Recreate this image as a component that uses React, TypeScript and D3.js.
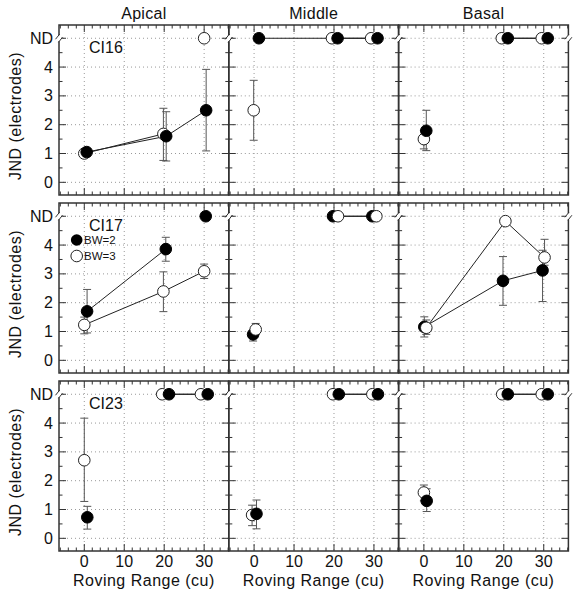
import React from "react";
import * as d3 from "d3";

type Pt = { x: number; y: number; lo?: number; hi?: number };

const regions = ["Apical", "Middle", "Basal"];
const subjects = ["CI16", "CI17", "CI23"];
const xTicks = [0, 10, 20, 30];
const yTicks = [0, 1, 2, 3, 4, 5];
const yTickLabels = ["0", "1", "2", "3", "4", "ND"];
const ND = 5;

// BW=2 (filled) and BW=3 (open) per panel; ND plotted at 5
const ci16ApicalBW2: Pt[] = [
  { x: 0.6, y: 1.05 },
  { x: 20.5, y: 1.6, lo: 0.74, hi: 2.45 },
  { x: 30.5, y: 2.5, lo: 1.09, hi: 3.92 },
];
const ci16ApicalBW3: Pt[] = [
  { x: 0, y: 1.0 },
  { x: 19.8, y: 1.68, lo: 0.76, hi: 2.57 },
  { x: 30, y: ND },
];
const ci16MiddleBW2: Pt[] = [
  { x: 1.2, y: ND },
  { x: 20.9, y: ND },
  { x: 30.9, y: ND },
];
const ci16MiddleBW3: Pt[] = [
  { x: -0.1, y: 2.5, lo: 1.46, hi: 3.54 },
  { x: 19.5, y: ND },
  { x: 29.3, y: ND },
];
const ci16BasalBW2: Pt[] = [
  { x: 0.6, y: 1.79, lo: 1.1, hi: 2.5 },
  { x: 21, y: ND },
  { x: 31, y: ND },
];
const ci16BasalBW3: Pt[] = [
  { x: 0, y: 1.5, lo: 1.16, hi: 1.8 },
  { x: 19.5, y: ND },
  { x: 29.5, y: ND },
];
const ci17ApicalBW2: Pt[] = [
  { x: 0.7, y: 1.7, lo: 0.95, hi: 2.46 },
  { x: 20.4, y: 3.86, lo: 3.44, hi: 4.27 },
  { x: 30.4, y: ND },
];
const ci17ApicalBW3: Pt[] = [
  { x: 0, y: 1.23, lo: 0.92, hi: 1.5 },
  { x: 19.8, y: 2.39, lo: 1.69, hi: 3.07 },
  { x: 30, y: 3.09, lo: 2.84, hi: 3.34 },
];
const ci17MiddleBW2: Pt[] = [
  { x: -0.25, y: 0.9, lo: 0.67, hi: 1.05 },
  { x: 19.75, y: ND },
  { x: 29.6, y: ND },
];
const ci17MiddleBW3: Pt[] = [
  { x: 0.4, y: 1.07, lo: 0.9, hi: 1.28 },
  { x: 21, y: ND },
  { x: 30.6, y: ND },
];
const ci17BasalBW2: Pt[] = [
  { x: 0.1, y: 1.16, lo: 0.81, hi: 1.51 },
  { x: 19.8, y: 2.76, lo: 1.91, hi: 3.6 },
  { x: 29.7, y: 3.12, lo: 2.04, hi: 3.82 },
];
const ci17BasalBW3: Pt[] = [
  { x: 0.6, y: 1.13, lo: 0.9, hi: 1.4 },
  { x: 20.4, y: 4.83 },
  { x: 30.2, y: 3.57, lo: 3.3, hi: 4.2 },
];
const ci23ApicalBW2: Pt[] = [
  { x: 0.75, y: 0.73, lo: 0.32, hi: 1.11 },
  { x: 21.2, y: ND },
  { x: 30.9, y: ND },
];
const ci23ApicalBW3: Pt[] = [
  { x: 0, y: 2.71, lo: 1.28, hi: 4.17 },
  { x: 19.5, y: ND },
  { x: 29.2, y: ND },
];
const ci23MiddleBW2: Pt[] = [
  { x: 0.6, y: 0.85, lo: 0.33, hi: 1.33 },
  { x: 21.2, y: ND },
  { x: 31, y: ND },
];
const ci23MiddleBW3: Pt[] = [
  { x: -0.5, y: 0.81, lo: 0.44, hi: 1.15 },
  { x: 19.75, y: ND },
  { x: 29.6, y: ND },
];
const ci23BasalBW2: Pt[] = [
  { x: 0.7, y: 1.3, lo: 0.93, hi: 1.72 },
  { x: 21, y: ND },
  { x: 31, y: ND },
];
const ci23BasalBW3: Pt[] = [
  { x: 0, y: 1.59, lo: 1.3, hi: 1.85 },
  { x: 19.6, y: ND },
  { x: 29.5, y: ND },
];

const bw2Grid = [
  [ci16ApicalBW2, ci16MiddleBW2, ci16BasalBW2],
  [ci17ApicalBW2, ci17MiddleBW2, ci17BasalBW2],
  [ci23ApicalBW2, ci23MiddleBW2, ci23BasalBW2],
];
const bw3Grid = [
  [ci16ApicalBW3, ci16MiddleBW3, ci16BasalBW3],
  [ci17ApicalBW3, ci17MiddleBW3, ci17BasalBW3],
  [ci23ApicalBW3, ci23MiddleBW3, ci23BasalBW3],
];
const openOnTop = [
  [false, false, false],
  [false, true, true],
  [false, false, false],
];

const W = 579;
const H = 600;
const panelLeft0 = 59;
const panelW = 169.8;
const panelTops = [25, 203, 381];
const panelH = 170;
const FONT = "'Liberation Sans', Arial, Helvetica, sans-serif";
const AX = "#333";

function Panel({ r, c }: { r: number; c: number }) {
  const x0 = panelLeft0 + c * panelW;
  const y0 = panelTops[r];
  const xs = d3.scaleLinear().domain([-6.33, 36.17]).range([x0, x0 + panelW]);
  const ys = d3.scaleLinear().domain([-0.44, 5.46]).range([y0 + panelH, y0]);
  const bw2 = bw2Grid[r][c];
  const bw3 = bw3Grid[r][c];
  const line = d3
    .line<Pt>()
    .x((d) => xs(d.x))
    .y((d) => ys(d.y));
  const segs = (pts: Pt[]) => {
    const out: Pt[][] = [];
    for (let i = 0; i < pts.length - 1; i++) {
      const a = pts[i];
      const b = pts[i + 1];
      if ((a.y === ND) === (b.y === ND)) out.push([a, b]);
    }
    return out;
  };
  const minorX = d3.range(-6, 37, 2).filter((v) => v % 10 !== 0);
  const minorY = d3.range(0.5, 5.5, 1);
  const R = 5.8;
  const cap = 4;
  const errs = (pts: Pt[], key: string) =>
    pts
      .filter((p) => p.lo !== undefined && p.hi !== undefined)
      .map((p, i) => {
        const cx = xs(p.x);
        return (
          <g key={key + i} stroke="#555" strokeWidth={1}>
            <line x1={cx} x2={cx} y1={ys(p.lo!)} y2={ys(p.hi!)} />
            <line x1={cx - cap} x2={cx + cap} y1={ys(p.lo!)} y2={ys(p.lo!)} />
            <line x1={cx - cap} x2={cx + cap} y1={ys(p.hi!)} y2={ys(p.hi!)} />
          </g>
        );
      });
  const filled = bw2.map((p, i) => (
    <circle key={"f" + i} cx={xs(p.x)} cy={ys(p.y)} r={R} fill="#000" stroke="#000" strokeWidth={1} />
  ));
  const open = bw3.map((p, i) => (
    <circle key={"o" + i} cx={xs(p.x)} cy={ys(p.y)} r={R} fill="#fff" stroke="#222" strokeWidth={1} />
  ));
  const yND = ys(ND);
  const breakMark = (bx: number, k: string) => (
    <g key={k}>
      <rect x={bx - 2} y={yND - 3} width={4} height={6} fill="#fff" />
      <line x1={bx - 3.5} y1={yND + 1} x2={bx + 0.5} y2={yND - 4} stroke={AX} strokeWidth={1} />
      <line x1={bx - 0.5} y1={yND + 4} x2={bx + 3.5} y2={yND - 1} stroke={AX} strokeWidth={1} />
    </g>
  );
  return (
    <g>
      {/* grid */}
      <g stroke="#999" strokeWidth={1} strokeDasharray="1,3">
        {xTicks.map((t) => (
          <line key={"gx" + t} x1={xs(t)} x2={xs(t)} y1={y0} y2={y0 + panelH} />
        ))}
        {yTicks.map((t) => (
          <line key={"gy" + t} x1={x0} x2={x0 + panelW} y1={ys(t)} y2={ys(t)} />
        ))}
      </g>
      {/* ticks */}
      <g stroke={AX} strokeWidth={1}>
        {xTicks.map((t) => (
          <g key={"tx" + t}>
            <line x1={xs(t)} x2={xs(t)} y1={y0 + panelH} y2={y0 + panelH - 7} />
            <line x1={xs(t)} x2={xs(t)} y1={y0} y2={y0 + 7} />
          </g>
        ))}
        {minorX.map((t) => (
          <g key={"mx" + t}>
            <line x1={xs(t)} x2={xs(t)} y1={y0 + panelH} y2={y0 + panelH - 3.5} />
            <line x1={xs(t)} x2={xs(t)} y1={y0} y2={y0 + 3.5} />
          </g>
        ))}
        {yTicks.map((t) => (
          <g key={"ty" + t}>
            <line x1={x0} x2={x0 + 7} y1={ys(t)} y2={ys(t)} />
            <line x1={x0 + panelW} x2={x0 + panelW - 7} y1={ys(t)} y2={ys(t)} />
          </g>
        ))}
        {minorY.map((t) => (
          <g key={"my" + t}>
            <line x1={x0} x2={x0 + 3.5} y1={ys(t)} y2={ys(t)} />
            <line x1={x0 + panelW} x2={x0 + panelW - 3.5} y1={ys(t)} y2={ys(t)} />
          </g>
        ))}
      </g>
      {/* frame */}
      <rect x={x0} y={y0} width={panelW} height={panelH} fill="none" stroke={AX} strokeWidth={1.5} />
      {breakMark(x0, "b0")}
      {breakMark(x0 + panelW, "b1")}
      {/* connecting lines */}
      <g fill="none" stroke="#222" strokeWidth={1}>
        {segs(bw2).map((s, i) => (
          <path key={"l2" + i} d={line(s) || ""} />
        ))}
        {segs(bw3).map((s, i) => (
          <path key={"l3" + i} d={line(s) || ""} />
        ))}
      </g>
      {errs(bw3, "e3")}
      {errs(bw2, "e2")}
      {openOnTop[r][c] ? (
        <g>
          {filled}
          {open}
        </g>
      ) : (
        <g>
          {open}
          {filled}
        </g>
      )}
      {c === 0 && (
        <text x={x0 + 30} y={y0 + 28} fontSize={16} fontFamily={FONT} fill="#111">
          {subjects[r]}
        </text>
      )}
      {r === 1 && c === 0 && (
        <g fontFamily={FONT} fontSize={11.5} fill="#111">
          <circle cx={x0 + 17.7} cy={y0 + 37} r={R} fill="#000" />
          <text x={x0 + 25} y={y0 + 41}>BW=2</text>
          <circle cx={x0 + 17.7} cy={y0 + 53} r={R} fill="#fff" stroke="#222" />
          <text x={x0 + 25} y={y0 + 57}>BW=3</text>
        </g>
      )}
      {/* y tick labels */}
      {c === 0 &&
        yTicks.map((t, i) => (
          <text
            key={"yl" + t}
            x={x0 - 6}
            y={ys(t) + 5.5}
            textAnchor="end"
            fontSize={16}
            fontFamily={FONT}
            fill="#111"
          >
            {yTickLabels[i]}
          </text>
        ))}
      {c === 0 && (
        <text
          transform={`translate(${21},${y0 + panelH / 2 + 6}) rotate(-90)`}
          textAnchor="middle"
          fontSize={16}
          letterSpacing={0.5}
          fontFamily={FONT}
          fill="#111"
        >
          JND (electrodes)
        </text>
      )}
      {r === 0 && (
        <text x={x0 + panelW / 2} y={y0 - 6} textAnchor="middle" fontSize={16} letterSpacing={0.3} fontFamily={FONT} fill="#111">
          {regions[c]}
        </text>
      )}
      {r === 2 &&
        xTicks.map((t) => (
          <text
            key={"xl" + t}
            x={xs(t)}
            y={y0 + panelH + 16}
            textAnchor="middle"
            fontSize={16}
            fontFamily={FONT}
            fill="#111"
          >
            {t}
          </text>
        ))}
      {r === 2 && (
        <text
          x={x0 + panelW / 2}
          y={y0 + panelH + 35}
          textAnchor="middle"
          fontSize={16}
          letterSpacing={0.5}
          fontFamily={FONT}
          fill="#111"
        >
          Roving Range (cu)
        </text>
      )}
    </g>
  );
}

export default function App() {
  const cells: React.ReactNode[] = [];
  for (let r = 0; r < 3; r++) for (let c = 0; c < 3; c++) cells.push(<Panel key={r + "-" + c} r={r} c={c} />);
  return (
    <svg
      width={W}
      height={H}
      style={{ position: "absolute", left: 0, top: 0, background: "#fff" }}
      xmlns="http://www.w3.org/2000/svg"
    >
      <rect x={0} y={0} width={W} height={H} fill="#fff" />
      {cells}
    </svg>
  );
}
